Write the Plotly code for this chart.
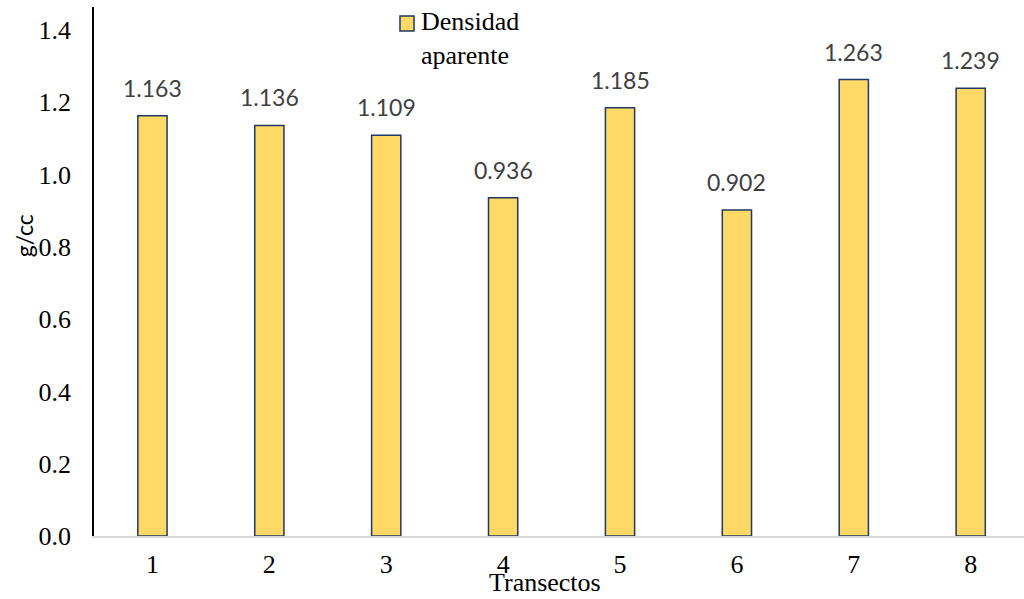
import plotly.graph_objects as go

# Bulk density per transect
transectos = ["1", "2", "3", "4", "5", "6", "7", "8"]
densidad = [1.163, 1.136, 1.109, 0.936, 1.185, 0.902, 1.263, 1.239]
y_ticks = [0.0, 0.2, 0.4, 0.6, 0.8, 1.0, 1.2, 1.4]
y_tick_text = ["0.0", "0.2", "0.4", "0.6", "0.8", "1.0", "1.2", "1.4"]
serie = "Densidad<br>aparente"

serif = "Liberation Serif, Times New Roman, serif"
sans = "Lato, Carlito, Calibri, sans-serif"
bar_fill = "#FFD966"
bar_edge = "#1F3864"

fig = go.Figure()
fig.add_trace(go.Bar(
    x=transectos,
    y=densidad,
    name=serie,
    width=0.25,
    showlegend=False,
    marker=dict(color=bar_fill, line=dict(color=bar_edge, width=1.5)),
))

# value labels above each bar (category index positions)
for i, v in enumerate(densidad):
    fig.add_annotation(
        x=i, y=v, text=f"{v:.3f}", showarrow=False,
        xanchor="center", yanchor="bottom", yshift=12,
        font=dict(family=sans, size=23, color="#404040"),
    )

# legend key: swatch + label, placed over the top of the plot
fig.add_shape(
    type="rect", xref="paper", yref="paper",
    x0=0.329, x1=0.3441, y0=0.9546, y1=0.983,
    fillcolor=bar_fill, line=dict(color=bar_edge, width=1.5),
)
fig.add_annotation(
    xref="paper", yref="paper", x=0.349, y=1.004,
    xanchor="left", yanchor="top", align="left",
    text=serie, showarrow=False,
    font=dict(family=serif, size=26, color="black"),
)

# y-axis title
fig.add_annotation(
    xref="paper", yref="paper", x=-0.075, y=0.567,
    xanchor="center", yanchor="middle",
    text="g/cc", textangle=-90, showarrow=False,
    font=dict(family=sans, size=23, color="black"),
)

# x-axis title, sitting on the bottom edge
fig.add_annotation(
    xref="paper", yref="paper", x=0.485, y=-0.1191,
    xanchor="center", yanchor="bottom",
    text="Transectos", showarrow=False,
    font=dict(family=serif, size=26, color="black"),
)

fig.update_layout(
    width=1024, height=599,
    margin=dict(l=94, r=0, t=7, b=63),
    plot_bgcolor="white", paper_bgcolor="white",
    bargap=0.75,
    showlegend=False,
    xaxis=dict(
        type="category",
        range=[-0.5, 7.456],
        automargin=False,
        showline=True, linecolor="#D9D9D9", linewidth=2,
        showgrid=False, ticks="",
        tickfont=dict(family=serif, size=26, color="black"),
        ticklabelstandoff=4,
    ),
    yaxis=dict(
        range=[0, 1.4636],
        automargin=False,
        tickvals=y_ticks, ticktext=y_tick_text,
        showline=True, linecolor="black", linewidth=1.5,
        showgrid=False, zeroline=False, ticks="",
        tickfont=dict(family=serif, size=26, color="black"),
        ticklabelstandoff=16,
    ),
)

fig.write_html("out.html")
